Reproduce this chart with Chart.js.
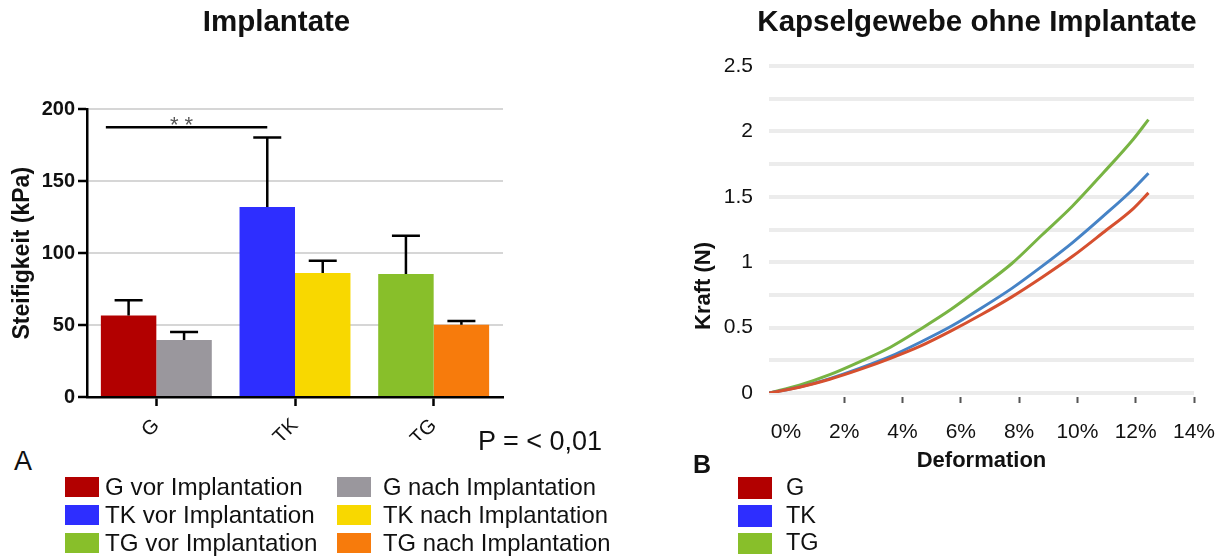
<!DOCTYPE html>
<html lang="de">
<head>
<meta charset="utf-8">
<title>Steifigkeit und Kraft-Deformation</title>
<script src="https://cdn.jsdelivr.net/npm/chart.js@4.4.1/dist/chart.umd.min.js"></script>
<style>
  html, body { margin: 0; padding: 0; background: #fff; }
  body { width: 1216px; height: 557px; overflow: hidden; position: relative;
         font-family: "Liberation Sans", Arial, sans-serif; color: #111; }
  #wrapA { position: absolute; left: 0; top: 0; width: 553px; height: 440px; }
  #wrapB { position: absolute; left: 680px; top: 0; width: 594px; height: 480px; }
  .txt { position: absolute; white-space: nowrap; line-height: 1; }
  .sw { position: absolute; width: 34px; height: 20px; }
</style>
</head>
<body>
<div id="wrapA"><canvas id="chartA"></canvas></div>
<div id="wrapB"><canvas id="chartB"></canvas></div>
<div id="panelText"></div>

<script>
// ---------- Panel A: stiffness before / after implantation ----------
const groups    = ['G', 'TK', 'TG'];
const vorMean   = [56.6, 132.2, 85.6];   // kPa, vor Implantation
const vorSD     = [10.6, 48.2, 26.6];
const nachMean  = [39.7, 86.3, 50.3];    // kPa, nach Implantation
const nachSD    = [5.5, 8.5, 2.6];
const vorColors  = ['#b20000', '#2e2eff', '#88bf2a'];
const nachColors = ['#9a979d', '#f8d800', '#f77b0c'];
const yTicksA   = [0, 50, 100, 150, 200];
const sigValue  = 187.6;                 // height of the significance bracket
const sigLabel  = '* *';
const pText     = 'P = < 0,01';

// ---------- Panel B: force vs. deformation of capsule tissue ----------
const deformation = [0, 1, 2, 3, 4, 5, 6, 7, 8, 9, 10, 11, 12, 12.5];
const forceG  = [0, 0.044, 0.105, 0.18, 0.265, 0.36, 0.475, 0.60, 0.735, 0.885, 1.045, 1.225, 1.41, 1.53];
const forceTK = [0, 0.045, 0.11, 0.19, 0.28, 0.39, 0.51, 0.65, 0.80, 0.97, 1.15, 1.35, 1.56, 1.68];
const forceTG = [0, 0.06, 0.14, 0.24, 0.35, 0.49, 0.64, 0.81, 0.99, 1.21, 1.43, 1.68, 1.94, 2.09];
const lineColors   = ['#d6502f', '#4683c6', '#78b443'];
const legendColorsB = ['#b20000', '#2e2eff', '#88bf2a'];
const xTickValues  = [0, 2, 4, 6, 8, 10, 12, 14];
const yGridValues  = [0, 0.25, 0.5, 0.75, 1, 1.25, 1.5, 1.75, 2, 2.25, 2.5];
const yLabelValues = [0, 0.5, 1, 1.5, 2, 2.5];

const FONT = "'Liberation Sans', Arial, sans-serif";
Chart.defaults.font.family = FONT;
Chart.defaults.color = '#111';

// Upper error bars and the significance bracket over the bars
const errorBarPlugin = {
  id: 'errorBars',
  afterDatasetsDraw(chart) {
    const { ctx, scales: { y } } = chart;
    const sds = [vorSD, nachSD];
    ctx.save();
    ctx.strokeStyle = '#000';
    ctx.lineWidth = 2.5;
    chart.data.datasets.forEach((ds, i) => {
      chart.getDatasetMeta(i).data.forEach((bar, j) => {
        const top = y.getPixelForValue(ds.data[j]);
        const tip = y.getPixelForValue(ds.data[j] + sds[i][j]);
        ctx.beginPath();
        ctx.moveTo(bar.x, top);
        ctx.lineTo(bar.x, tip);
        ctx.moveTo(bar.x - 14, tip);
        ctx.lineTo(bar.x + 14, tip);
        ctx.stroke();
      });
    });
    const bars = chart.getDatasetMeta(0).data;
    const x1 = bars[0].x - bars[0].width * 0.41;
    const x2 = bars[1].x;
    const yb = y.getPixelForValue(sigValue);
    ctx.beginPath();
    ctx.moveTo(x1, yb);
    ctx.lineTo(x2, yb);
    ctx.stroke();
    ctx.fillStyle = '#555';
    ctx.font = '22px ' + FONT;
    ctx.textAlign = 'center';
    ctx.textBaseline = 'alphabetic';
    ctx.fillText(sigLabel, (x1 + x2) / 2 - 5, yb + 4.5);
    ctx.restore();
  }
};

new Chart(document.getElementById('chartA'), {
  type: 'bar',
  data: {
    labels: groups,
    datasets: [
      { label: 'vor Implantation',  data: vorMean,  backgroundColor: vorColors,  borderWidth: 0 },
      { label: 'nach Implantation', data: nachMean, backgroundColor: nachColors, borderWidth: 0 }
    ]
  },
  options: {
    responsive: true,
    maintainAspectRatio: false,
    devicePixelRatio: 1,
    animation: false,
    layout: { padding: 0 },
    datasets: { bar: { categoryPercentage: 0.8, barPercentage: 1.0 } },
    plugins: {
      legend: { display: false },
      tooltip: { enabled: false },
      title: {
        display: true, text: 'Implantate', color: '#111',
        font: { family: FONT, size: 29.5, weight: 'bold' },
        padding: { top: 5, bottom: 69 }
      }
    },
    scales: {
      x: {
        type: 'category',
        offset: true,
        grid: { offset: false, drawOnChartArea: false, drawTicks: true, tickLength: 9,
                tickColor: '#000', tickWidth: 2.5 },
        border: { display: true, color: '#000', width: 2.5 },
        ticks: { color: '#111', font: { family: FONT, size: 20 }, minRotation: 45, maxRotation: 45,
                 padding: 8, autoSkip: false },
        afterFit(s) { s.height = 43; }
      },
      y: {
        min: 0, max: 200,
        afterBuildTicks(s) { s.ticks = yTicksA.map(v => ({ value: v })); },
        ticks: { color: '#111', font: { family: FONT, size: 20, weight: 'bold' }, padding: 3 },
        grid: {
          color: c => (c.tick && c.tick.value === 0) ? 'rgba(0,0,0,0)' : '#d6d6d6',
          lineWidth: 2, drawTicks: true, tickLength: 9, tickColor: '#000', tickWidth: 2.5
        },
        border: { display: true, color: '#000', width: 2.5 },
        title: {
          display: true, text: 'Steifigkeit (kPa)', color: '#111',
          font: { family: FONT, size: 23, weight: 'bold' },
          padding: { top: 8.7, bottom: 0 }
        },
        afterFit(s) { s.width = 87; }
      },
      yPad: {
        position: 'right', display: true,
        grid: { display: false }, border: { display: false }, ticks: { display: false },
        afterFit(s) { s.width = 50; }
      }
    }
  },
  plugins: [errorBarPlugin]
});

// Rotated y-axis caption placed beside the curves
const forceTitlePlugin = {
  id: 'forceTitle',
  afterDraw(chart) {
    const { ctx } = chart;
    ctx.save();
    ctx.translate(23.5, 286);
    ctx.rotate(-Math.PI / 2);
    ctx.font = 'bold 22px ' + FONT;
    ctx.fillStyle = '#111';
    ctx.textAlign = 'center';
    ctx.textBaseline = 'middle';
    ctx.fillText('Kraft (N)', 0, 0);
    ctx.restore();
  }
};

const toPoints = arr => deformation.map((d, i) => ({ x: d, y: arr[i] }));

new Chart(document.getElementById('chartB'), {
  type: 'line',
  data: {
    datasets: [
      { label: 'G',  data: toPoints(forceG),  borderColor: lineColors[0] },
      { label: 'TK', data: toPoints(forceTK), borderColor: lineColors[1] },
      { label: 'TG', data: toPoints(forceTG), borderColor: lineColors[2] }
    ].map(ds => Object.assign(ds, {
      xAxisID: 'xd', yAxisID: 'y', borderWidth: 3, pointRadius: 0,
      cubicInterpolationMode: 'monotone', fill: false
    }))
  },
  options: {
    responsive: true,
    maintainAspectRatio: false,
    devicePixelRatio: 1,
    animation: false,
    layout: { padding: 0 },
    plugins: {
      legend: { display: false },
      tooltip: { enabled: false },
      title: {
        display: true, text: 'Kapselgewebe ohne Implantate', color: '#111',
        font: { family: FONT, size: 29.5, weight: 'bold' },
        padding: { top: 5, bottom: 25.6 }
      }
    },
    scales: {
      x: {
        type: 'linear', min: -0.58, max: 14,
        afterBuildTicks(s) { s.ticks = xTickValues.map(v => ({ value: v })); },
        ticks: { callback: v => v + '%', color: '#111', font: { family: FONT, size: 21 },
                 padding: 17, maxRotation: 0, autoSkip: false },
        grid: {
          drawOnChartArea: false, drawTicks: true, tickLength: 10, tickWidth: 2,
          tickColor: c => (c.tick && c.tick.value === 0) ? 'rgba(0,0,0,0)' : '#555',
          tickBorderDash: [0, 4, 6, 20]
        },
        border: { display: false },
        title: {
          display: true, text: 'Deformation', color: '#111',
          font: { family: FONT, size: 22, weight: 'bold' },
          padding: { top: 0, bottom: 6 }
        },
        afterFit(s) { s.height = 87; }
      },
      xd: { type: 'linear', display: false, min: 0, max: 14 },
      y: {
        min: 0, max: 2.5,
        afterBuildTicks(s) { s.ticks = yGridValues.map(v => ({ value: v })); },
        ticks: { callback: v => yLabelValues.includes(v) ? String(v) : '',
                 color: '#111', font: { family: FONT, size: 21 }, padding: 16 },
        grid: { color: '#ececec', lineWidth: 4, drawTicks: false },
        border: { display: false },
        afterFit(s) { s.width = 89; }
      },
      yPad: {
        position: 'right', display: true,
        grid: { display: false }, border: { display: false }, ticks: { display: false },
        afterFit(s) { s.width = 80; }
      }
    }
  },
  plugins: [forceTitlePlugin]
});

// ---------- Panel letters, p-value and legends ----------
const layer = document.getElementById('panelText');
function addText(text, left, top, size, bold) {
  const el = document.createElement('div');
  el.className = 'txt';
  el.textContent = text;
  el.style.left = left + 'px';
  el.style.top = top + 'px';
  el.style.fontSize = size + 'px';
  if (bold) el.style.fontWeight = 'bold';
  layer.appendChild(el);
}
function addSwatch(color, left, top, h) {
  const el = document.createElement('div');
  el.className = 'sw';
  el.style.background = color;
  el.style.left = left + 'px';
  el.style.top = top + 'px';
  el.style.height = h + 'px';
  layer.appendChild(el);
}

addText(pText, 478, 427.5, 27, false);
addText('A', 14, 448, 27, false);
addText('B', 693, 451.7, 25, true);

const rowTops = [477, 505, 532.7];
groups.forEach((g, i) => {
  addSwatch(vorColors[i], 64.7, rowTops[i], 20);
  addText(g + ' vor Implantation', 105, rowTops[i] - 2.2, 24.2, false);
  addSwatch(nachColors[i], 337, rowTops[i], 20);
  addText(g + ' nach Implantation', 383, rowTops[i] - 2.2, 23.8, false);
  addSwatch(legendColorsB[i], 738.3, rowTops[i], 21.5);
  addText(g, 786, rowTops[i] - 1.5, 23.5, false);
});
</script>
</body>
</html>
